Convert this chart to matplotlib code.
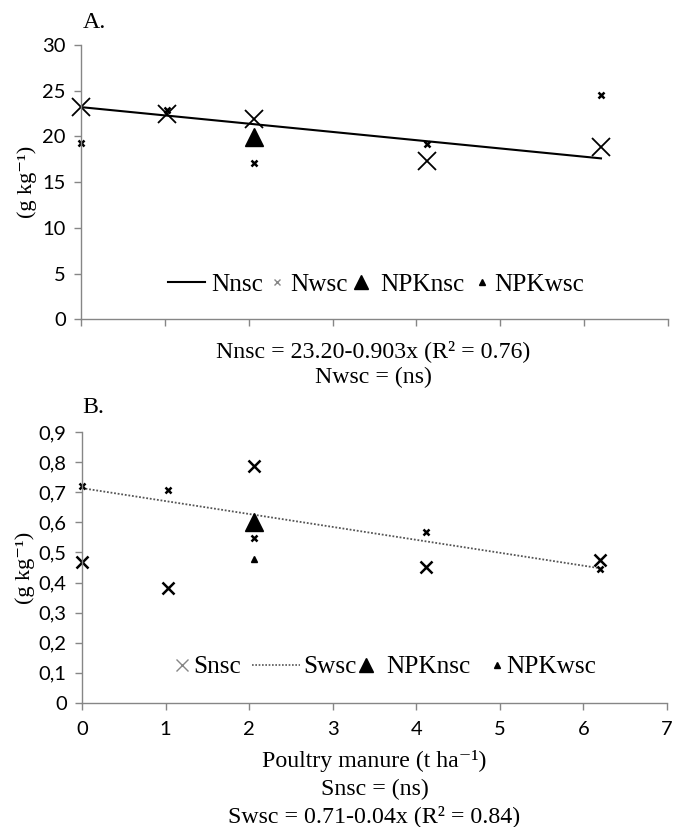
import matplotlib
matplotlib.use("Agg")
import matplotlib.pyplot as plt
from matplotlib.lines import Line2D
from matplotlib.legend import Legend

plt.rcParams['font.family'] = ['Liberation Serif', 'DejaVu Serif']

# poultry manure doses (t/ha)
dose = [0, 1.03, 2.06, 4.12, 6.2]
npk_dose = [2.06]

# A. nitrogen (g/kg)
n_nsc = [23.2, 22.4, 21.95, 17.35, 18.8]
n_wsc = [19.3, 22.9, 17.1, 19.2, 24.5]
npk_nsc_n = [19.95]
npk_wsc_n = [19.95]
n_fit = (23.20, -0.903)

# B. sulphur (g/kg)
s_nsc = [0.468, 0.381, 0.789, 0.45, 0.475]
s_wsc = [0.72, 0.708, 0.548, 0.567, 0.445]
npk_nsc_s = [0.60]
npk_wsc_s = [0.479]
s_fit = (0.714, -0.043)

fit_x = [0, 6.2]

grey = '#868686'
fs_tick = 14.5
fs_leg = 18.2
fs_txt = 17.2
tick_font = ['Lato', 'DejaVu Sans']
PX = 0.72  # points per pixel at dpi 100

fig = plt.figure(figsize=(6.81, 8.27), dpi=100)
ax1 = fig.add_axes([0.119, 0.6137, 0.862, 0.332])
ax2 = fig.add_axes([0.1204, 0.1503, 0.859, 0.327])


def style(ax):
    for s in ['top', 'right']:
        ax.spines[s].set_visible(False)
    for s in ['left', 'bottom']:
        ax.spines[s].set_color(grey)
        ax.spines[s].set_linewidth(1.0)
    ax.tick_params(direction='out', length=5, width=1, color=grey,
                   labelsize=fs_tick, pad=6)
    ax.set_xlim(0, 7)
    ax.set_xticks(range(8))
    for lab in ax.get_xticklabels() + ax.get_yticklabels():
        lab.set_family(tick_font)


def entry(ax, handle, label, start_px, width_px, pad_px, yfrac):
    # one legend entry, Excel style spacing: handle box starts at start_px
    bb = ax.get_position()
    x0 = bb.x0 * 681
    w = bb.width * 681
    leg = Legend(ax, [handle], [label], loc='center left',
                 bbox_to_anchor=((start_px - x0) / w, yfrac),
                 frameon=False, fontsize=fs_leg, borderpad=0,
                 borderaxespad=0, numpoints=1,
                 handlelength=width_px * PX / fs_leg,
                 handletextpad=pad_px * PX / fs_leg)
    ax.add_artist(leg)


# --- panel A
ax1.plot(fit_x, [n_fit[0] + n_fit[1] * x for x in fit_x], color='k', lw=1.5)
ax1.plot(dose, n_wsc, 'x', color='k', ms=5, mew=1.8, clip_on=False)
ax1.plot(dose, n_nsc, 'x', color='k', ms=13, mew=1.3, clip_on=False)
ax1.plot(npk_dose, npk_wsc_n, '^', color='k', ms=4)
ax1.plot(npk_dose, npk_nsc_n, '^', color='k', ms=13)
ax1.set_ylim(0, 30)
ax1.set_yticks(range(0, 31, 5))
ax1.set_xticklabels([])
style(ax1)
ax1.set_ylabel('(g kg⁻¹)', fontsize=16, labelpad=4)

entry(ax1, Line2D([], [], color='k', lw=1.5), 'Nnsc', 168, 37, 6, 0.126)
entry(ax1, Line2D([], [], ls='none', marker='x', color=grey, ms=5, mew=1),
      'Nwsc', 266, 22, 2, 0.126)
entry(ax1, Line2D([], [], ls='none', marker='^', color='k', ms=10),
      'NPKnsc', 344, 34, 2, 0.126)
entry(ax1, Line2D([], [], ls='none', marker='^', color='k', ms=4),
      'NPKwsc', 472, 20, 2, 0.126)

fig.text(0.121, 0.973, 'A.', fontsize=fs_txt, ha='left', va='center')
fig.text(0.548, 0.576, 'Nnsc = 23.20-0.903x (R² = 0.76)', fontsize=fs_txt,
         ha='center', va='center')
fig.text(0.548, 0.544, 'Nwsc = (ns)', fontsize=fs_txt, ha='center', va='center')

# --- panel B
ax2.plot(fit_x, [s_fit[0] + s_fit[1] * x for x in fit_x], color='#555555',
         lw=1.3, ls=(0, (1, 1)))
ax2.plot(dose, s_wsc, 'x', color='k', ms=5, mew=1.8, clip_on=False)
ax2.plot(dose, s_nsc, 'x', color='k', ms=8.5, mew=1.8, clip_on=False)
ax2.plot(npk_dose, npk_wsc_s, '^', color='k', ms=5)
ax2.plot(npk_dose, npk_nsc_s, '^', color='k', ms=13)
ax2.set_ylim(0, 0.9)
ax2.set_yticks([i / 10 for i in range(10)])
ax2.set_yticklabels(['0'] + ['0,%d' % i for i in range(1, 10)])
style(ax2)
ax2.tick_params(axis='x', pad=8)
ax2.set_ylabel('(g kg⁻¹)', fontsize=16, labelpad=3)
ax2.set_xlabel('Poultry manure (t ha⁻¹)', fontsize=fs_txt, labelpad=9)

entry(ax2, Line2D([], [], ls='none', marker='x', color=grey, ms=9, mew=1),
      'Snsc', 173, 18, 2, 0.132)
entry(ax2, Line2D([], [], color='#555555', lw=1.2, ls=(0, (1, 1))),
      'Swsc', 252, 48, 3, 0.132)
entry(ax2, Line2D([], [], ls='none', marker='^', color='k', ms=10),
      'NPKnsc', 348, 36, 2, 0.132)
entry(ax2, Line2D([], [], ls='none', marker='^', color='k', ms=4),
      'NPKwsc', 490, 14, 2, 0.132)

fig.text(0.121, 0.507, 'B.', fontsize=fs_txt, ha='left', va='center')
fig.text(0.55, 0.045, 'Snsc = (ns)', fontsize=fs_txt, ha='center', va='center')
fig.text(0.55, 0.013, 'Swsc = 0.71-0.04x (R² = 0.84)', fontsize=fs_txt,
         ha='center', va='center')

fig.savefig('out.png', dpi=100)
